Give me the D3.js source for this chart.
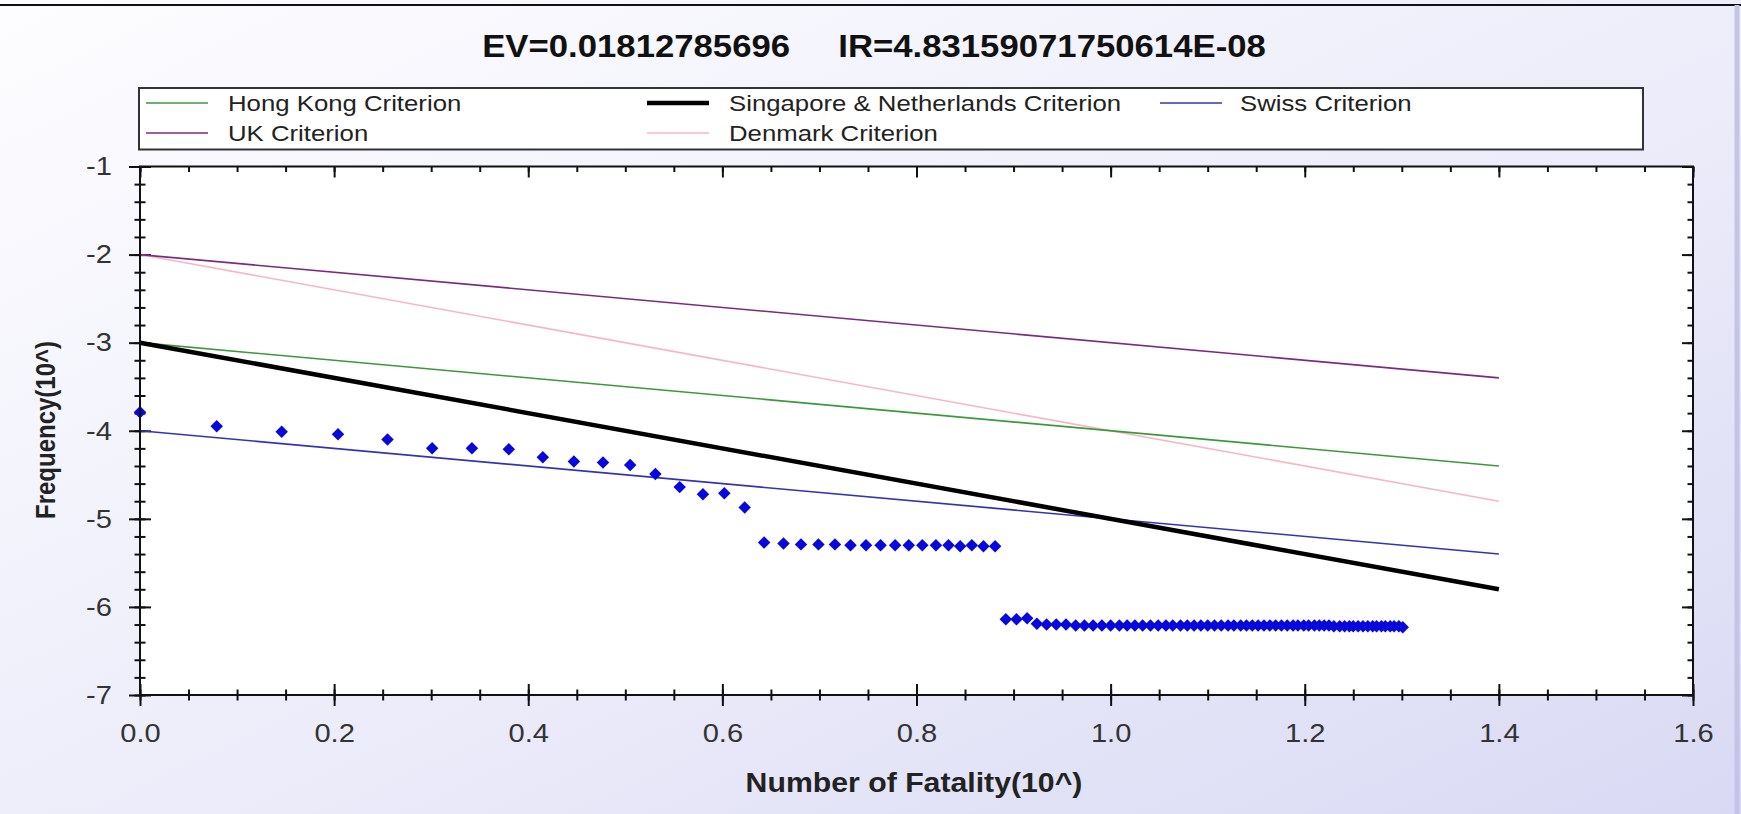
<!DOCTYPE html>
<html>
<head>
<meta charset="utf-8">
<script src="https://cdn.jsdelivr.net/npm/d3@7"></script>
<style>
    body { margin: 0; background: #fff; }
    svg text { font-family: "Liberation Sans", Arial, sans-serif; }
</style>
</head>
<body>
<svg id="chart"></svg>
<script>
// ---- data ----
let titleLeft = 'EV=0.01812785696';
let titleRight = 'IR=4.83159071750614E-08';
let xLabel = 'Number of Fatality(10^)';
let yLabel = 'Frequency(10^)';

let xTicks = [0.0, 0.2, 0.4, 0.6, 0.8, 1.0, 1.2, 1.4, 1.6];
let yTicks = [-7, -6, -5, -4, -3, -2, -1];

// criterion lines, order as in the legend (filled column by column)
let criteriaNames = ['Hong Kong Criterion', 'UK Criterion', 'Singapore & Netherlands Criterion', 'Denmark Criterion', 'Swiss Criterion'];
let criteriaColors = ['#3a9a3a', '#7d2a7d', '#000000', '#f7b6c4', '#3434b0'];
let criteriaWidths = [1.6, 1.6, 4.5, 1.6, 1.6];
let criteriaX = [0, 1.4];
let hongKongY = [-3, -4.4];
let ukY = [-2, -3.4];
let singaporeY = [-3, -5.8];
let denmarkY = [-2, -4.8];
let swissY = [-4, -5.4];

// F-N points
let fnX = [
    0.000, 0.079, 0.146, 0.204, 0.255, 0.301, 0.342, 0.380, 0.415, 0.447,
    0.477, 0.505, 0.531, 0.556, 0.580, 0.602, 0.623,
    0.643, 0.663, 0.681, 0.699, 0.716, 0.732, 0.748, 0.763, 0.778, 0.792,
    0.806, 0.820, 0.833, 0.845, 0.857, 0.869, 0.881,
    0.892, 0.903, 0.914, 0.924, 0.934, 0.944, 0.954, 0.964, 0.973, 0.982,
    0.991, 1.000, 1.009, 1.017, 1.025, 1.033, 1.041, 1.049, 1.057, 1.064,
    1.072, 1.079, 1.086, 1.093, 1.100, 1.107, 1.114, 1.121, 1.127, 1.134,
    1.140, 1.146, 1.152, 1.158, 1.164, 1.170, 1.176, 1.182, 1.188, 1.193,
    1.199, 1.204, 1.210, 1.215, 1.220, 1.225, 1.230, 1.236, 1.241, 1.246,
    1.250, 1.255, 1.260, 1.265, 1.270, 1.274, 1.279, 1.283, 1.288, 1.292,
    1.297, 1.301
];
let fnY = [
    -3.79, -3.95, -4.01, -4.04, -4.10, -4.20, -4.20, -4.21, -4.30, -4.35,
    -4.36, -4.39, -4.49, -4.64, -4.72, -4.71, -4.87,
    -5.27, -5.28, -5.29, -5.29, -5.29, -5.30, -5.30, -5.30, -5.30, -5.30,
    -5.30, -5.30, -5.30, -5.31, -5.30, -5.31, -5.31,
    -6.14, -6.14, -6.13, -6.19, -6.20, -6.20, -6.20, -6.21, -6.21, -6.21,
    -6.21, -6.21, -6.21, -6.21, -6.21, -6.21, -6.21, -6.21, -6.21, -6.21,
    -6.21, -6.21, -6.21, -6.21, -6.21, -6.21, -6.21, -6.21, -6.21, -6.21,
    -6.21, -6.21, -6.21, -6.21, -6.21, -6.21, -6.21, -6.21, -6.21, -6.21,
    -6.21, -6.21, -6.21, -6.21, -6.21, -6.21, -6.22, -6.22, -6.22, -6.22,
    -6.22, -6.22, -6.22, -6.22, -6.22, -6.22, -6.22, -6.22, -6.22, -6.22,
    -6.22, -6.23
];

// ---- layout ----
let width = 1741;
let height = 814;
let plot = {left: 140, right: 1693, top: 166.5, bottom: 695};
let textStretch = 1.12;

let svg = d3.select('#chart')
    .attr('width', width)
    .attr('height', height);

let defs = svg.append('defs');
let grad = defs.append('linearGradient')
    .attr('id', 'bg')
    .attr('x1', 0).attr('y1', 0)
    .attr('x2', 1).attr('y2', 1);
grad.append('stop').attr('offset', '0%').attr('stop-color', '#fdfdff');
grad.append('stop').attr('offset', '55%').attr('stop-color', '#ececfa');
grad.append('stop').attr('offset', '100%').attr('stop-color', '#d9d9f4');

svg.append('rect')
    .attr('width', width)
    .attr('height', height)
    .attr('fill', 'url(#bg)');
svg.append('line')
    .attr('x1', 0).attr('x2', width)
    .attr('y1', 5).attr('y2', 5)
    .attr('stroke', '#111')
    .attr('stroke-width', 2);
svg.append('line')
    .attr('x1', width - 4).attr('x2', width - 4)
    .attr('y1', 5).attr('y2', height)
    .attr('stroke', '#c4c4e4')
    .attr('stroke-width', 5);

let xScale = d3.scaleLinear()
    .domain([0, 1.6])
    .range([plot.left, plot.right]);
let yScale = d3.scaleLinear()
    .domain([-7, -1])
    .range([plot.bottom, plot.top]);

// title
let title = svg.append('text')
    .attr('transform', `translate(874,57) scale(${textStretch},1)`)
    .attr('text-anchor', 'middle')
    .attr('font-size', 31)
    .attr('font-weight', 'bold')
    .attr('fill', '#111');
title.append('tspan').text(titleLeft);
title.append('tspan').attr('dx', 43).text(titleRight);

// legend
let legend = svg.append('g');
legend.append('rect')
    .attr('x', 139).attr('y', 88)
    .attr('width', 1504).attr('height', 61.5)
    .attr('fill', '#fff')
    .attr('stroke', '#333')
    .attr('stroke-width', 2);
let legendSwatchX = [146, 647, 1160];
let legendTextX = [228, 729, 1240];
let legendRowY = [103, 133];
criteriaNames.forEach((name, i) => {
    let col = Math.floor(i / 2);
    let row = i % 2;
    legend.append('line')
        .attr('x1', legendSwatchX[col])
        .attr('x2', legendSwatchX[col] + 62)
        .attr('y1', legendRowY[row])
        .attr('y2', legendRowY[row])
        .attr('stroke', criteriaColors[i])
        .attr('stroke-width', criteriaWidths[i]);
    legend.append('text')
        .attr('transform', `translate(${legendTextX[col]},${legendRowY[row] + 8}) scale(${textStretch},1)`)
        .attr('font-size', 23)
        .attr('fill', '#222')
        .text(name);
});

// plot area
svg.append('rect')
    .attr('x', plot.left).attr('y', plot.top)
    .attr('width', plot.right - plot.left)
    .attr('height', plot.bottom - plot.top)
    .attr('fill', '#fff');

let xMinor = d3.range(0, 1.6001, 0.05);
let yMinor = d3.range(-7, -0.999, 0.2);

function tickAxis(axis, g, cross) {
    g.call(axis);
    g.select('.domain').remove();
    g.selectAll('text').remove();
    g.selectAll('line').attr('stroke', '#111').attr('stroke-width', 2);
    if (cross) cross(g.selectAll('line'));
}

// bottom: ticks cross the axis
tickAxis(d3.axisBottom(xScale).tickValues(xTicks).tickSize(11),
    svg.append('g').attr('transform', `translate(0,${plot.bottom})`),
    l => l.attr('y1', -11));
tickAxis(d3.axisBottom(xScale).tickValues(xMinor).tickSize(5.5),
    svg.append('g').attr('transform', `translate(0,${plot.bottom})`),
    l => l.attr('y1', -5.5));
// left: ticks cross the axis
tickAxis(d3.axisLeft(yScale).tickValues(yTicks).tickSize(11),
    svg.append('g').attr('transform', `translate(${plot.left},0)`),
    l => l.attr('x1', 11));
tickAxis(d3.axisLeft(yScale).tickValues(yMinor).tickSize(5.5),
    svg.append('g').attr('transform', `translate(${plot.left},0)`),
    l => l.attr('x1', 5.5));
// top and right: inside only
tickAxis(d3.axisTop(xScale).tickValues(xTicks).tickSize(-11),
    svg.append('g').attr('transform', `translate(0,${plot.top})`));
tickAxis(d3.axisTop(xScale).tickValues(xMinor).tickSize(-5.5),
    svg.append('g').attr('transform', `translate(0,${plot.top})`));
tickAxis(d3.axisRight(yScale).tickValues(yTicks).tickSize(-11),
    svg.append('g').attr('transform', `translate(${plot.right},0)`));
tickAxis(d3.axisRight(yScale).tickValues(yMinor).tickSize(-5.5),
    svg.append('g').attr('transform', `translate(${plot.right},0)`));

// tick labels
let xLabels = svg.append('g')
    .attr('transform', `translate(0,${plot.bottom})`)
    .call(d3.axisBottom(xScale).tickValues(xTicks).tickSize(0).tickPadding(29).tickFormat(d3.format('.1f')));
xLabels.select('.domain').remove();
xLabels.selectAll('text')
    .attr('font-size', 26)
    .attr('font-family', '"Liberation Sans", Arial, sans-serif')
    .attr('fill', '#333')
    .attr('transform', `scale(${textStretch},1)`);

let yLabels = svg.append('g')
    .attr('transform', `translate(${plot.left},0)`)
    .call(d3.axisLeft(yScale).tickValues(yTicks).tickSize(0).tickPadding(25).tickFormat(d => String(d)));
yLabels.select('.domain').remove();
yLabels.selectAll('text')
    .attr('font-size', 26)
    .attr('font-family', '"Liberation Sans", Arial, sans-serif')
    .attr('fill', '#333')
    .attr('transform', `scale(${textStretch},1)`);

// criterion lines
let criteriaY = [hongKongY, ukY, singaporeY, denmarkY, swissY];
let line = d3.line()
    .x(d => xScale(d[0]))
    .y(d => yScale(d[1]));
let drawOrder = [3, 1, 0, 4, 2];
drawOrder.forEach(i => {
    svg.append('path')
        .datum(criteriaX.map((x, j) => [x, criteriaY[i][j]]))
        .attr('d', line)
        .attr('fill', 'none')
        .attr('stroke', criteriaColors[i])
        .attr('stroke-width', criteriaWidths[i]);
});

// F-N points as diamonds
let diamond = d3.symbol().type(d3.symbolSquare).size(78);
svg.append('g')
    .selectAll('path')
    .data(fnX.map((x, i) => [x, fnY[i]]))
    .enter()
    .append('path')
    .attr('d', diamond)
    .attr('transform', d => `translate(${xScale(d[0])},${yScale(d[1])}) rotate(45)`)
    .attr('fill', '#0808dc');

// frame
svg.append('rect')
    .attr('x', plot.left).attr('y', plot.top)
    .attr('width', plot.right - plot.left)
    .attr('height', plot.bottom - plot.top)
    .attr('fill', 'none')
    .attr('stroke', '#111')
    .attr('stroke-width', 2);

// axis titles
svg.append('text')
    .attr('transform', `translate(914,792) scale(${textStretch},1)`)
    .attr('text-anchor', 'middle')
    .attr('font-size', 27)
    .attr('font-weight', 'bold')
    .attr('fill', '#222')
    .text(xLabel);
svg.append('text')
    .attr('transform', `translate(55,430) scale(${textStretch},1) rotate(-90)`)
    .attr('text-anchor', 'middle')
    .attr('font-size', 24)
    .attr('font-weight', 'bold')
    .attr('fill', '#222')
    .text(yLabel);
</script>
</body>
</html>
